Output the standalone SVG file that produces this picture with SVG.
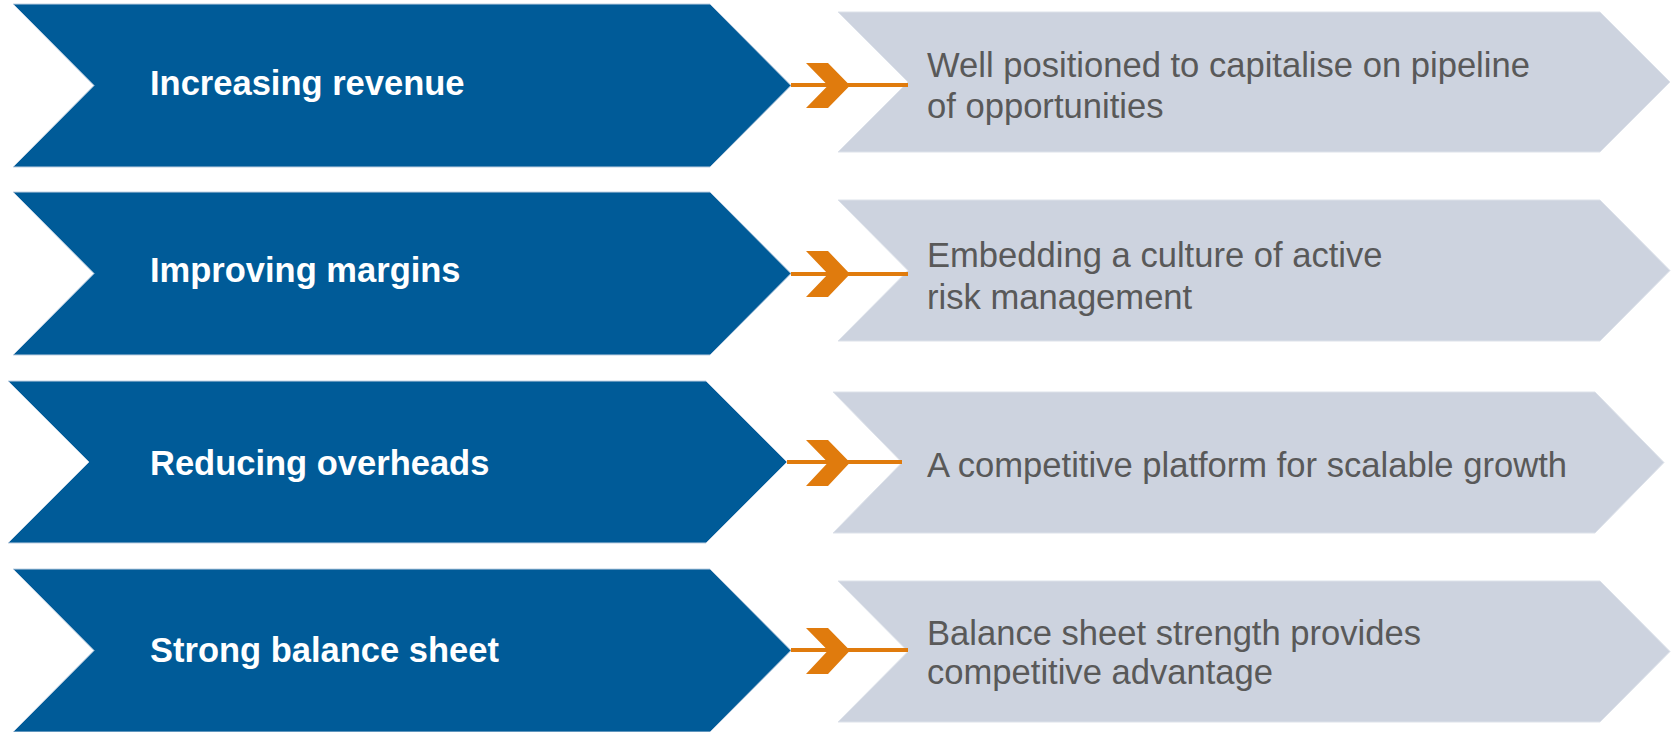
<svg xmlns="http://www.w3.org/2000/svg" width="1675" height="732" viewBox="0 0 1675 732">
<defs>
<style>
.blue{fill:#005b98;stroke:#bfd0e2;stroke-width:1}
.grey{fill:#cdd3df;stroke:#dde2ea;stroke-width:1}
.lbl{font-family:"Liberation Sans",Arial,sans-serif;font-weight:bold;font-size:34.5px;fill:#ffffff}
.desc{font-family:"Liberation Sans",Arial,sans-serif;font-size:34.6px;fill:#595959}
.line{stroke:#e07b0d;stroke-width:4;fill:none}
.chev{fill:#e07b0d}
</style>
</defs>
<rect width="1675" height="732" fill="#ffffff"/>
<g id="node-increasing-revenue">
<polygon class="blue" points="13,4 710,4 791,85.5 710,167 13,167 94,85.5"/>
<text class="lbl" x="150" y="95">Increasing revenue</text>
</g>
<g id="node-improving-margins">
<polygon class="blue" points="13,192 710,192 791,273.5 710,355 13,355 94,273.5"/>
<text class="lbl" x="150" y="282">Improving margins</text>
</g>
<g id="node-reducing-overheads">
<polygon class="blue" points="8,381 706,381 787,462 706,543 8,543 89,462"/>
<text class="lbl" x="150" y="475">Reducing overheads</text>
</g>
<g id="node-strong-balance-sheet">
<polygon class="blue" points="13,569 710,569 791,650.5 710,732 13,732 94,650.5"/>
<text class="lbl" x="150" y="662">Strong balance sheet</text>
</g>
<g id="node-pipeline">
<polygon class="grey" points="838,12 1600,12 1670,82 1600,152 838,152 908,82"/>
<text class="desc" x="927" y="77">Well positioned to capitalise on pipeline</text>
<text class="desc" x="927" y="118">of opportunities</text>
</g>
<g id="node-risk">
<polygon class="grey" points="838,200 1600,200 1670,270.5 1600,341 838,341 908,270.5"/>
<text class="desc" x="927" y="267">Embedding a culture of active</text>
<text class="desc" x="927" y="309">risk management</text>
</g>
<g id="node-platform">
<polygon class="grey" points="833,392 1595,392 1664,462.5 1595,533 833,533 902,462.5"/>
<text class="desc" x="927" y="477">A competitive platform for scalable growth</text>
</g>
<g id="node-balance">
<polygon class="grey" points="838,581 1600,581 1670,651.5 1600,722 838,722 908,651.5"/>
<text class="desc" x="927" y="645">Balance sheet strength provides</text>
<text class="desc" x="927" y="684">competitive advantage</text>
</g>
<g id="connectors">
<line class="line" x1="791" y1="85" x2="908" y2="85"/>
<polygon class="chev" points="806,63 828,63 850,85.5 828,108 806,108 828,85.5"/>
<line class="line" x1="791" y1="274" x2="908" y2="274"/>
<polygon class="chev" points="806,251 828,251 850,274 828,297 806,297 828,274"/>
<line class="line" x1="787" y1="462" x2="902" y2="462"/>
<polygon class="chev" points="806,440 828,440 850,462.5 828,486 806,486 828,462.5"/>
<line class="line" x1="791" y1="650" x2="908" y2="650"/>
<polygon class="chev" points="806,628 828,628 850,650.5 828,674 806,674 828,650.5"/>
</g>
</svg>
